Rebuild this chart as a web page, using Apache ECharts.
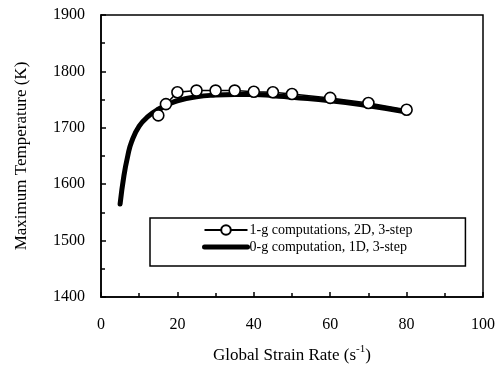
<!DOCTYPE html>
<html>
<head>
<meta charset="utf-8">
<script src="https://cdn.jsdelivr.net/npm/echarts@6/dist/echarts.min.js"></script>
<style>
html,body{margin:0;padding:0;background:#fff;}
#c{width:504px;height:374px;}
</style>
</head>
<body>
<div id="c"></div>
<script>
// Data
const seriesNames = ['1-g computations, 2D, 3-step', '0-g computation, 1D, 3-step'];
const oneG_x = [15, 17, 20, 25, 30, 35, 40, 45, 50, 60, 70, 80];
const oneG_y = [1722, 1742, 1763, 1766, 1766, 1766, 1764, 1763, 1760, 1753, 1744, 1732];
const zeroG_x = [5, 6, 7, 8, 10, 12.5, 15, 17.5, 20, 25, 30, 35, 40, 45, 50, 60, 70, 80];
const zeroG_y = [1565, 1615, 1650, 1675, 1703, 1721, 1733, 1741, 1748, 1755, 1758, 1759, 1759, 1757, 1754, 1748, 1739, 1728];
const xTicks = [0, 20, 40, 60, 80, 100];
const yTicks = [1400, 1500, 1600, 1700, 1800, 1900];

const font = 'Liberation Serif';
const chart = echarts.init(document.getElementById('c'), null, {renderer: 'canvas'});
const pairs = (xs, ys) => xs.map((x, i) => [x, ys[i]]);

chart.setOption({
  backgroundColor: '#fff',
  animation: false,
  grid: {left: 101, right: 21, top: 15, bottom: 77, show: true, borderColor: '#000', borderWidth: 1.5, backgroundColor: 'transparent'},
  xAxis: {
    type: 'value', min: xTicks[0], max: xTicks[xTicks.length - 1], interval: 20,
    name: 'Global Strain Rate (s{sup|-1})', nameLocation: 'middle', nameGap: 47,
    nameTextStyle: {fontFamily: font, fontSize: 17, color: '#000', rich: {sup: {fontFamily: font, fontSize: 11, color: '#000', verticalAlign: 'top', lineHeight: 24, padding: [0, 0, 8, 0]}}},
    axisLine: {show: true, lineStyle: {color: '#000', width: 1.5}},
    axisTick: {show: true, inside: true, length: 5, lineStyle: {color: '#000', width: 1.5}},
    minorTick: {show: true, splitNumber: 2, length: 4, lineStyle: {color: '#000', width: 1.5}},
    splitLine: {show: false},
    axisLabel: {fontFamily: font, fontSize: 16, color: '#000', margin: 20, formatter: v => String(v)}
  },
  yAxis: {
    type: 'value', min: yTicks[0], max: yTicks[yTicks.length - 1], interval: 100,
    name: 'Maximum Temperature (K)', nameLocation: 'middle', nameGap: 71, nameRotate: 90,
    nameTextStyle: {fontFamily: font, fontSize: 17, color: '#000'},
    axisLine: {show: true, lineStyle: {color: '#000', width: 1.5}},
    axisTick: {show: true, inside: true, length: 5, lineStyle: {color: '#000', width: 1.5}},
    minorTick: {show: true, splitNumber: 2, length: 4, lineStyle: {color: '#000', width: 1.5}},
    splitLine: {show: false},
    axisLabel: {fontFamily: font, fontSize: 16, color: '#000', margin: 16, formatter: v => String(v)}
  },
  legend: {
    orient: 'vertical', left: 150, top: 218,
    padding: [5, 53, 12, 52], itemGap: 3, itemWidth: 43, itemHeight: 12,
    borderColor: '#000', borderWidth: 1.5, backgroundColor: '#fff',
    textStyle: {fontFamily: font, fontSize: 14, color: '#000', padding: [0, 0, 0, -3]},
    data: [
      {name: seriesNames[0]},
      {name: seriesNames[1], lineStyle: {width: 5, color: '#000'}, itemStyle: {opacity: 0}}
    ]
  },
  series: [
    {
      name: seriesNames[0], type: 'line', z: 4,
      data: pairs(oneG_x, oneG_y),
      symbol: 'circle', symbolSize: 11, showSymbol: true,
      lineStyle: {color: '#000', width: 1.5},
      itemStyle: {color: '#fff', borderColor: '#000', borderWidth: 1.6}
    },
    {
      name: seriesNames[1], type: 'line', z: 3,
      data: pairs(zeroG_x, zeroG_y),
      smooth: true, symbol: 'none',
      lineStyle: {color: '#000', width: 5, cap: 'round'},
      itemStyle: {color: '#000'}
    }
  ]
});
</script>
</body>
</html>
